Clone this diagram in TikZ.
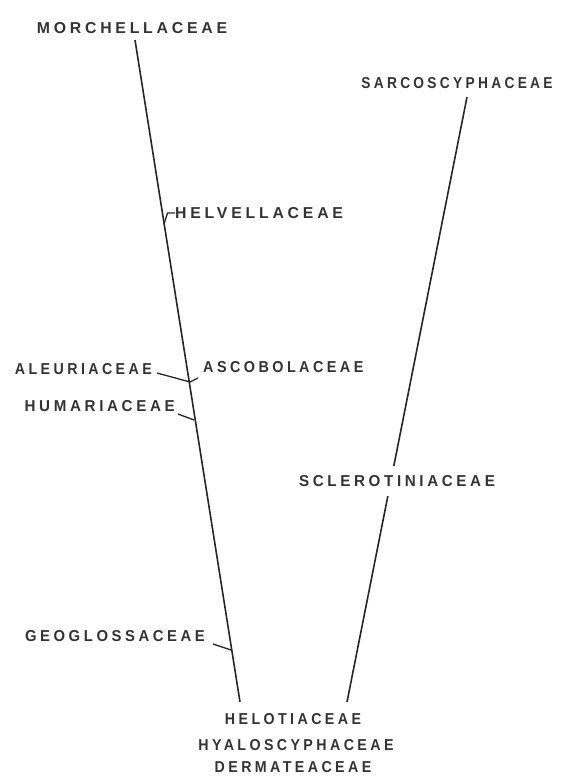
\documentclass[tikz,border=0pt]{standalone}
\usepackage{graphicx}
\usepackage{fontspec}
\setmainfont{Liberation Sans}
\newfontfamily\lblfont[LetterSpace=24]{Liberation Sans}
\newcommand\sqz[2]{\scalebox{#1}[1]{#2}}
\begin{document}
\begin{tikzpicture}[x=1pt,y=-1pt,
  lbl/.style={font=\lblfont\bfseries\fontsize{15.8}{17}\selectfont, inner sep=0pt, text=black!80},
  stem/.style={line width=1.6pt, draw=black!85},
  tick/.style={line width=1.3pt, draw=black!85}]
\useasboundingbox (0,0) rectangle (577,777);
% labels
\node[lbl] (morch) at (132,28) {\sqz{1.0}{MORCHELLACEAE}};
\node[lbl] (sarco) at (457,83) {\sqz{0.87}{SARCOSCYPHACEAE}};
\node[lbl,anchor=west] (helv) at (175,213) {\sqz{1.0}{HELVELLACEAE}};
\node[lbl,anchor=east] (aleu) at (152,369) {\sqz{0.9}{ALEURIACEAE}};
\node[lbl,anchor=west] (asco) at (203,367) {\sqz{0.91}{ASCOBOLACEAE}};
\node[lbl,anchor=east] (hum) at (175,406) {\sqz{0.96}{HUMARIACEAE}};
\node[lbl,anchor=east] (geo) at (205,636) {\sqz{0.94}{GEOGLOSSACEAE}};
\node[lbl] (helo) at (293,719) {\sqz{0.9}{HELOTIACEAE}};
\node[lbl] (hyalo) at (296,745) {\sqz{0.9}{HYALOSCYPHACEAE}};
\node[lbl] (derm) at (293,767) {\sqz{0.9}{DERMATEACEAE}};
% stem coordinates
\coordinate (L1) at (135,40);
\coordinate (L2) at (240,702);
\coordinate (R1) at (467,97);
\coordinate (R2) at (347,702);
\draw[stem] (L1) -- (L2);
\draw[stem] (R1) -- (R2);
\node[lbl,fill=white,inner xsep=2pt,inner ysep=9pt] (scler) at (397,481) {\sqz{0.96}{SCLEROTINIACEAE}};
% ticks
\coordinate (hv1) at (164,224);
\coordinate (hv2) at (167.5,213);
\draw[tick] (hv1) -- (hv2) -- (helv.west);
\coordinate (al1) at (157,373);
\coordinate (al2) at (190,382);
\coordinate (as2) at (198,378);
\draw[tick] (al1) -- (al2) -- (as2);
\coordinate (hu1) at (178,414);
\coordinate (hu2) at (194,420);
\draw[tick] (hu1) -- (hu2);
\coordinate (ge1) at (213,644);
\coordinate (ge2) at (231,650);
\draw[tick] (ge1) -- (ge2);
\end{tikzpicture}
\end{document}
